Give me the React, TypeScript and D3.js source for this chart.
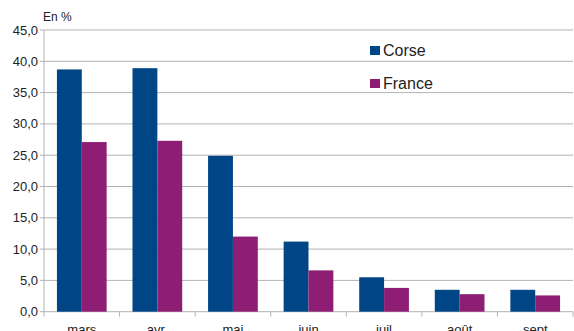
import React from "react";
import * as d3 from "d3";

const categories = ["mars", "avr.", "mai", "juin", "juil", "août", "sept"];
const corse = [38.7, 38.9, 24.9, 11.2, 5.5, 3.5, 3.5];
const france = [27.1, 27.3, 12.0, 6.6, 3.8, 2.8, 2.6];
const seriesNames = ["Corse", "France"];
const colors = ["#004586", "#8d1e74"];
const yTicks = [0, 5, 10, 15, 20, 25, 30, 35, 40, 45];

const W = 574, H = 331;
const left = 44, right = 573, top = 30, bottom = 311.7;

export default function App() {
  const x = d3.scaleBand<string>().domain(categories).range([left, right]).paddingInner(0).paddingOuter(0);
  const y = d3.scaleLinear().domain([0, 45]).range([bottom, top]);
  const bw = x.bandwidth();
  const inner = d3.scaleBand<string>().domain(seriesNames).range([0, bw]).paddingInner(0).paddingOuter(0.52);
  const fmt = (v: number) => v.toFixed(1).replace(".", ",");
  const series = [corse, france];
  const font = "'Liberation Sans', Arial, sans-serif";
  return (
    <svg width={W} height={H} style={{ position: "absolute", left: 0, top: 0, background: "#fff" }} fontFamily={font}>
      {yTicks.map((t) => (
        <g key={t}>
          <line x1={left - 4} x2={right} y1={y(t)} y2={y(t)} stroke="#b3b3b3" strokeWidth={1} />
          <text x={38} y={y(t) + 4.5} textAnchor="end" fontSize={13} fill="#222">{fmt(t)}</text>
        </g>
      ))}
      <line x1={left} x2={left} y1={top} y2={bottom} stroke="#b3b3b3" />
      {categories.map((c, i) => (
        <line key={"t" + i} x1={x(c)!} x2={x(c)!} y1={bottom} y2={bottom + 5} stroke="#b3b3b3" />
      ))}
      <line x1={right} x2={right} y1={bottom} y2={bottom + 5} stroke="#b3b3b3" />
      {categories.map((c, i) =>
        series.map((s, j) => (
          <rect
            key={c + j}
            x={x(c)! + inner(seriesNames[j])!}
            y={y(s[i])}
            width={inner.bandwidth()}
            height={bottom - y(s[i])}
            fill={colors[j]}
          />
        ))
      )}
      {categories.map((c) => (
        <text key={"l" + c} x={x(c)! + bw / 2} y={334} textAnchor="middle" fontSize={13} fill="#222">{c}</text>
      ))}
      <text x={43} y={21} fontSize={12} fill="#222">En %</text>
      {seriesNames.map((n, j) => (
        <g key={n}>
          <rect x={370} y={46 + j * 33} width={10} height={9} fill={colors[j]} />
          <text x={383} y={55.5 + j * 33} fontSize={16} fill="#222">{n}</text>
        </g>
      ))}
    </svg>
  );
}
